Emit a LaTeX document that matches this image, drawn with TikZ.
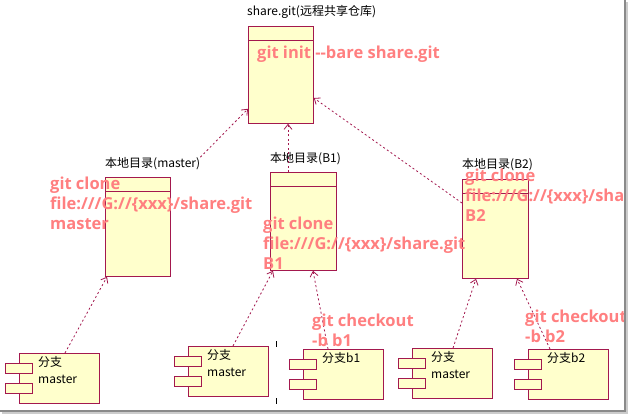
\documentclass[tikz,border=0pt]{standalone}
\usepackage{fontspec}
\usepackage{xcolor}
\usepackage{tikz}
\usetikzlibrary{positioning,arrows.meta,calc}
\newfontfamily\cjkfont{Noto Sans CJK SC}
\newfontfamily\cmdfont{Open Sans}
\definecolor{umlred}{HTML}{A3184E}
\definecolor{umlfill}{HTML}{FFFFCC}
\definecolor{cmdred}{HTML}{FF7F80}
\definecolor{framegray}{HTML}{8A8A8A}
\tikzset{
  cls/.style={draw=umlred, fill=umlfill, line width=0.8pt, inner sep=0pt, anchor=north west,
              minimum width=66pt, minimum height=98pt},
  ttl/.style={font=\cjkfont\fontsize{12}{14}\selectfont, inner sep=0pt, text=black},
  cmd/.style={font=\cmdfont\bfseries\fontsize{16.5}{20}\selectfont, text=cmdred, align=left,
              inner sep=0pt, anchor=base west},
  comp/.style={draw=umlred, fill=umlfill, line width=0.8pt, inner sep=0pt, anchor=north west,
               minimum width=80pt, minimum height=50pt},
  port/.style={draw=umlred, fill=umlfill, line width=0.8pt, inner sep=0pt, anchor=north west,
               minimum width=27pt, minimum height=10pt},
  ctext/.style={font=\cjkfont\fontsize{12}{17}\selectfont, inner sep=0pt, align=left, anchor=north west},
  dep/.style={-{Straight Barb[length=5pt,width=8pt]}, umlred, line width=0.8pt,
              dash pattern=on 2pt off 2.5pt},
}
\begin{document}
\begin{tikzpicture}[x=1pt,y=-1pt]
  \useasboundingbox (0,0) rectangle (628,416);
  \fill[white] (0,0) rectangle (628,416);
  \begin{scope}
  \clip (0,0) rectangle (624,410);
  % repositories
  \node[cls, minimum height=97pt, minimum width=65pt] (share) at (248,26) {};
  \node[cls, minimum height=99pt, minimum width=65pt] (master) at (105,177) {};
  \node[cls] (b1) at (270,172) {};
  \node[cls, minimum height=99pt] (b2) at (462,179) {};
  \foreach \r in {share, master, b1, b2}
    \draw[umlred, line width=0.8pt] ([yshift=-14pt]\r.north west) -- ([yshift=-14pt]\r.north east);
  \node[ttl, above right=7pt and -1pt of share.north west]  (sharettl)  {share.git(远程共享仓库)};
  \node[ttl, above right=7pt and 0pt of master.north west]  (masterttl) {本地目录(master)};
  \node[ttl, above right=7pt and 0pt of b1.north west]      (b1ttl)     {本地目录(B1)};
  \node[ttl, above right=8pt and 0pt of b2.north west]      (b2ttl)     {本地目录(B2)};
  % branches
  \foreach \n/\x/\y/\t in {c1/19/353/{分支\\master}, c2/188/346/{分支\\master},
                           c3/303/349/{分支b1}, c4/412/348/{分支\\master}, c5/528/349/{分支b2}} {
    \node[comp] (\n) at (\x,\y) {};
    \node[port] at ([xshift=-14pt,yshift=-10pt]\n.north west) {};
    \node[port] at ([xshift=-14pt,yshift=-30pt]\n.north west) {};
    \node[ctext] (\n-t) at ([xshift=19pt,yshift=-3pt]\n.north west) {\t};
  }
  % dependencies
  \draw[dep] (masterttl.north east) -- ([yshift=15pt]share.south west);
  \draw[dep] ([xshift=18pt]b1.north west) -- ([xshift=18pt]b1.north west |- share.south);
  \draw[dep] ([yshift=-24pt]b2.north west) -- ([yshift=-72pt]share.north east);
  \draw[dep] ([xshift=46pt]c1.north west) -- ([xshift=2pt]master.south west);
  \draw[dep] ([xshift=45pt]c2.north west) -- ([xshift=3pt]b1.south west);
  \draw[dep] ([xshift=25pt]c3.north west) -- ([xshift=43pt]b1.south west);
  \draw[dep] ([xshift=41pt]c4.north west) -- ([xshift=14pt]b2.south west);
  \draw[dep] ([xshift=22pt]c5.north west) -- ([xshift=55pt]b2.south west);
  % commands (placed at the baseline of their last line)
  \node[cmd] (initcmd) at (257,58) {git init --bare share.git};
  \node[cmd] (clonem)  at (50,229) {git clone\\file:///G://\{xxx\}/share.git\\master};
  \node[cmd] (clone1)  at (263,269) {git clone\\file:///G://\{xxx\}/share.git\\B1};
  \node[cmd] (clone2)  at (465,221) {git clone\\file:///G://\{xxx\}/share.git\\B2};
  \node[cmd] (co1)     at (312,346) {git checkout\\-b b1};
  \node[cmd] (co2)     at (525,342) {git checkout\\-b b2};
  \draw[black, line width=0.8pt] (276,341) -- (276,347) (276,398) -- (276,404);
  \end{scope}
  % window frame
  \draw[framegray, line width=1.2pt] (625,0) -- (625,411) -- (0,411);
  \draw[black!20, line width=1.6pt] (627,2) -- (627,413) -- (2,413);
\end{tikzpicture}
\end{document}
